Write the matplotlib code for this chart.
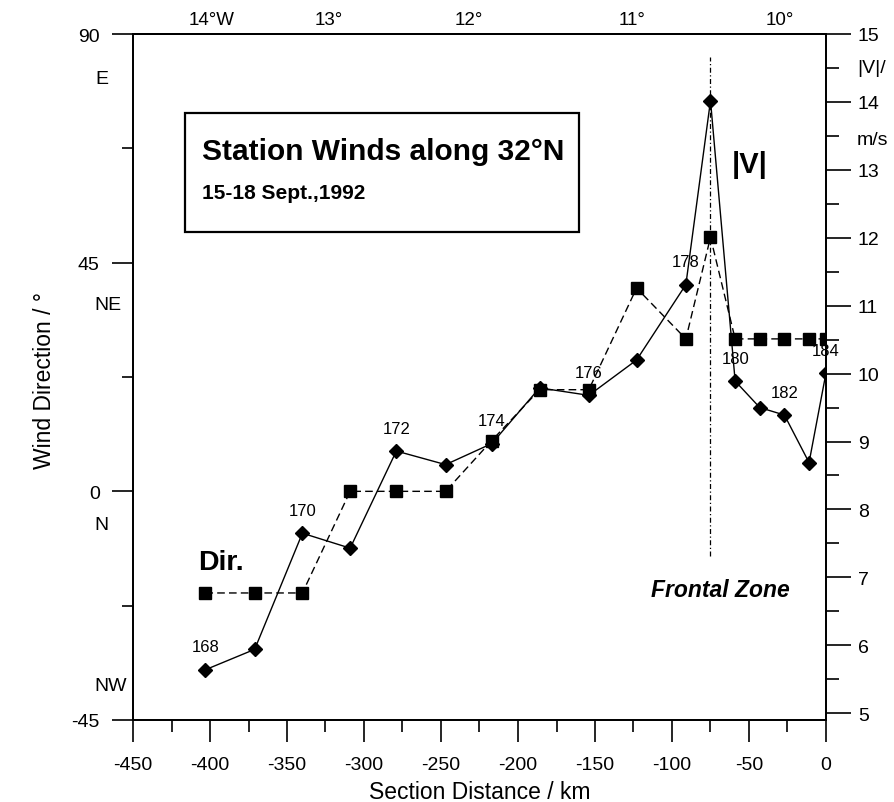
import matplotlib
matplotlib.use('Agg')
from matplotlib import pyplot as plt
from matplotlib.patches import Rectangle

plt.rcParams['font.family'] = ['Liberation Sans', 'DejaVu Sans']
plt.rcParams['axes.unicode_minus'] = False

# station positions along the section (km) and station numbers
dist_km = [-403, -371, -340, -309, -279, -247, -217, -186, -154, -123,
           -91, -75, -59, -43, -27, -11, 0]
stations = [168, 169, 170, 171, 172, 173, 174, 175, 176, 177,
            178, 179, 180, 181, 182, 183, 184]

# wind direction (deg, squares, left axis)
wind_dir = [-20, -20, -20, 0, 0, 0, 10, 20, 20, 40,
            30, 50, 30, 30, 30, 30, 30]

# wind speed |V| (m/s, diamonds, right axis)
wind_speed = [5.64, 5.94, 7.65, 7.43, 8.86, 8.66, 8.97, 9.79, 9.68, 10.20,
              11.31, 14.02, 9.89, 9.50, 9.39, 8.69, 10.01]

# longitude labels on top
lon_km = [-399, -323, -232, -126, -30]
lon_labels = ['14°W', '13°', '12°', '11°', '10°']

# compass labels on left axis
compass_deg = [81.2, 36.8, -6.6, -38.2]
compass_labels = ['E', 'NE', 'N', 'NW']

front_km = -75
front_span = (7.31, 14.66)

fig = plt.figure(figsize=(8.95, 8.03), dpi=100)
ax = fig.add_axes([133 / 895, 82 / 803, 693 / 895, 686 / 803])
ax2 = ax.twinx()

ax.set_xlim(-450, 0)
ax.set_ylim(-45, 90)
ax2.set_ylim(4.9, 15)

# series
ax.plot(dist_km, wind_dir, color='black', lw=1.0, ls=(0, (5.5, 3)),
        marker='s', ms=8.3, zorder=3)
ax2.plot(dist_km, wind_speed, color='black', lw=1.0, ls='-',
         marker='D', ms=6.8, zorder=4)
ax2.plot([front_km, front_km], front_span, color='black', lw=0.9,
         ls=(0, (4, 2, 1, 2)), zorder=2)

for x, v, s in zip(dist_km, wind_speed, stations):
    if s % 2 == 0:
        ax2.annotate(str(s), (x, v), xytext=(0, 16.5), textcoords='offset points',
                     ha='center', va='center', fontsize=12)

# axes styling
for a in (ax, ax2):
    for sp in a.spines.values():
        sp.set_linewidth(1.3)

ax.set_yticks([-45, 0, 45, 90])
ax.set_yticks([-22.5, 22.5, 67.5], minor=True)
ax.set_xticks(range(-450, 1, 50))
ax.set_xticks(range(-425, 0, 50), minor=True)
ax.tick_params(axis='y', which='major', direction='out', length=15, width=1.2,
               pad=9, labelsize=14)
ax.tick_params(axis='y', which='minor', direction='out', length=7.7, width=1.2)
ax.tick_params(axis='x', which='major', direction='out', length=16, width=1.2,
               pad=10, labelsize=14)
ax.tick_params(axis='x', which='minor', direction='out', length=8.6, width=1.2)

ax2.set_yticks(range(5, 16))
ax2.set_yticks([v + 0.5 for v in range(5, 15)], minor=True)
ax2.tick_params(axis='y', which='major', direction='out', length=18, width=1.2,
                pad=5, labelsize=14)
ax2.tick_params(axis='y', which='minor', direction='out', length=9.6, width=1.2)

secax = ax.secondary_xaxis('top')
secax.set_xticks(lon_km, labels=lon_labels)
secax.tick_params(length=0, pad=4, labelsize=13.5)
secax.spines['top'].set_linewidth(1.3)

# compass names under the numeric labels
comp_x = [-0.036, -0.0173, -0.036, -0.0087]
for cx, d, lab in zip(comp_x, compass_deg, compass_labels):
    ax.text(cx, d, lab, transform=ax.get_yaxis_transform(), ha='right',
            va='center', fontsize=14)

ax.set_xlabel('Section Distance / km', fontsize=16.5)
ax.xaxis.label.set_va('center')
ax.xaxis.set_label_coords(0.5, -0.1035)
ax.set_ylabel('Wind Direction / °', fontsize=16.5)
ax.yaxis.label.set_va('center')
ax.yaxis.set_label_coords(-0.127, 0.497)

ax2.text(1.0447, 14.5, '|V|/', transform=ax2.get_yaxis_transform(),
         ha='left', va='center', fontsize=14)
ax2.text(1.0447, 13.45, 'm/s', transform=ax2.get_yaxis_transform(),
         ha='left', va='center', fontsize=14)

# title box
ax.add_patch(Rectangle((0.075, 0.7114), 0.5686, 0.1734, transform=ax.transAxes,
                       fill=False, lw=1.6, ec='black', zorder=5))
ax.text(0.0996, 0.8294, 'Station Winds along 32°N', transform=ax.transAxes,
        ha='left', va='center', fontsize=21.5, fontweight='bold')
ax.text(0.0996, 0.769, '15-18 Sept.,1992', transform=ax.transAxes,
        ha='left', va='center', fontsize=15, fontweight='bold')

ax.text(0.890, 0.810, '|V|', transform=ax.transAxes, ha='center', va='center',
        fontsize=21, fontweight='bold')
ax.text(0.094, 0.230, 'Dir.', transform=ax.transAxes, ha='left', va='center',
        fontsize=20.5, fontweight='bold')
ax.text(0.948, 0.190, 'Frontal Zone', transform=ax.transAxes, ha='right',
        va='center', fontsize=16.5, fontweight='bold', style='italic')

fig.savefig('out.png', dpi=100)
